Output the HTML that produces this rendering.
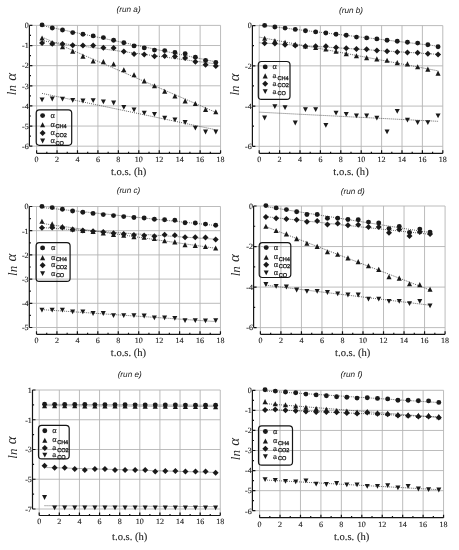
<!DOCTYPE html><html><head><meta charset="utf-8"><style>html,body{margin:0;padding:0;background:#fff;width:459px;height:550px;overflow:hidden}svg{display:block;filter:grayscale(1) blur(0.3px)}text{text-rendering:geometricPrecision}.tk{font-family:"Liberation Serif",serif;font-size:8px;fill:#1a1a1a;stroke:#1a1a1a;stroke-width:0.12px}.ti{font-family:"Liberation Sans",sans-serif;font-style:italic;font-size:8.2px;fill:#222}.xl{font-family:"Liberation Serif",serif;font-size:10.6px;fill:#1a1a1a;stroke:#1a1a1a;stroke-width:0.1px}.yl{font-family:"Liberation Serif",serif;font-style:italic;font-size:13px;fill:#222;word-spacing:1px}.lg{font-family:"Liberation Serif",serif;font-size:8.3px;fill:#1a1a1a;stroke:#1a1a1a;stroke-width:0.15px}.ls{font-family:"Liberation Sans",sans-serif;font-size:5.6px;fill:#1a1a1a;stroke:#1a1a1a;stroke-width:0.3px;letter-spacing:-0.1px}.la{font-family:"Liberation Sans",sans-serif;font-size:7px;fill:#1a1a1a;stroke:#1a1a1a;stroke-width:0.15px}</style></head><body>
<svg width="459" height="550" viewBox="0 0 459 550">
<rect width="459" height="550" fill="#fff"/>
<path d="M29.4 25.4H220.56M29.4 45.53H220.56M29.4 65.66H220.56M29.4 85.79H220.56M29.4 105.92H220.56M29.4 126.05H220.56M29.4 146.18H220.56M36.6 25.4V153.3M57.04 25.4V153.3M77.48 25.4V153.3M97.92 25.4V153.3M118.36 25.4V153.3M138.8 25.4V153.3M159.24 25.4V153.3M179.68 25.4V153.3M200.12 25.4V153.3M220.56 25.4V153.3" stroke="#b4b4b4" stroke-width="0.9" fill="none"/>
<path d="M29.4 25.4V146.18M36.6 153.3H220.56M29.4 25.4h3M29.4 45.53h3M29.4 65.66h3M29.4 85.79h3M29.4 105.92h3M29.4 126.05h3M29.4 146.18h3M29.4 35.46h1.6M29.4 55.59h1.6M29.4 75.72h1.6M29.4 95.85h1.6M29.4 115.98h1.6M29.4 136.11h1.6M36.6 153.3v-3M46.82 153.3v-1.6M57.04 153.3v-3M67.26 153.3v-1.6M77.48 153.3v-3M87.7 153.3v-1.6M97.92 153.3v-3M108.14 153.3v-1.6M118.36 153.3v-3M128.58 153.3v-1.6M138.8 153.3v-3M149.02 153.3v-1.6M159.24 153.3v-3M169.46 153.3v-1.6M179.68 153.3v-3M189.9 153.3v-1.6M200.12 153.3v-3M210.34 153.3v-1.6M220.56 153.3v-3" stroke="#151515" stroke-width="1.2" fill="none"/>
<g class="tk"><text x="28.7" y="28.2" text-anchor="end">0</text><text x="28.7" y="48.33" text-anchor="end">-1</text><text x="28.7" y="68.46" text-anchor="end">-2</text><text x="28.7" y="88.59" text-anchor="end">-3</text><text x="28.7" y="108.72" text-anchor="end">-4</text><text x="28.7" y="128.85" text-anchor="end">-5</text><text x="28.7" y="148.98" text-anchor="end">-6</text><text x="36.6" y="161.5" text-anchor="middle">0</text><text x="57.04" y="161.5" text-anchor="middle">2</text><text x="77.48" y="161.5" text-anchor="middle">4</text><text x="97.92" y="161.5" text-anchor="middle">6</text><text x="118.36" y="161.5" text-anchor="middle">8</text><text x="138.8" y="161.5" text-anchor="middle">10</text><text x="159.24" y="161.5" text-anchor="middle">12</text><text x="179.68" y="161.5" text-anchor="middle">14</text><text x="200.12" y="161.5" text-anchor="middle">16</text><text x="220.56" y="161.5" text-anchor="middle">18</text></g>
<text class="ti" x="128.6" y="11.8" text-anchor="middle">(run a)</text>
<text class="xl" x="128.58" y="174.6" text-anchor="middle">t.o.s. (h)</text>
<text class="yl" transform="translate(11.9 84.1) rotate(-90)" x="0" y="0" text-anchor="middle" dominant-baseline="central">ln <tspan style="font-size:15px">α</tspan></text>
<path d="M42.06 25.59L215.8 61.86M42.06 37.14L215.8 112.35M42.06 40.81L215.8 63.88M42.06 93.4L215.8 129.8" stroke="#3a3a3a" stroke-width="0.85" stroke-dasharray="0.9 1.1" fill="none"/>
<g fill="#1a1a1a"><path d="M39.56 97.4L44.56 97.4L42.06 102.2Z"/><path d="M49.78 96.6L54.78 96.6L52.28 101.4Z"/><path d="M60 96.8L65 96.8L62.5 101.6Z"/><path d="M70.22 97.9L75.22 97.9L72.72 102.7Z"/><path d="M80.44 98.6L85.44 98.6L82.94 103.4Z"/><path d="M90.66 98.2L95.66 98.2L93.16 103Z"/><path d="M100.88 99.4L105.88 99.4L103.38 104.2Z"/><path d="M111.1 100.6L116.1 100.6L113.6 105.4Z"/><path d="M121.32 105L126.32 105L123.82 109.8Z"/><path d="M131.54 107.4L136.54 107.4L134.04 112.2Z"/><path d="M141.76 110.7L146.76 110.7L144.26 115.5Z"/><path d="M151.98 112L156.98 112L154.48 116.8Z"/><path d="M162.2 115.8L167.2 115.8L164.7 120.6Z"/><path d="M172.42 117.5L177.42 117.5L174.92 122.3Z"/><path d="M182.64 120.1L187.64 120.1L185.14 124.9Z"/><path d="M192.86 125.7L197.86 125.7L195.36 130.5Z"/><path d="M203.08 129.6L208.08 129.6L205.58 134.4Z"/><path d="M213.3 129.6L218.3 129.6L215.8 134.4Z"/><path d="M42.06 40.1L45.06 43.1L42.06 46.1L39.06 43.1Z"/><path d="M52.28 40.8L55.28 43.8L52.28 46.8L49.28 43.8Z"/><path d="M62.5 41L65.5 44L62.5 47L59.5 44Z"/><path d="M72.72 42.3L75.72 45.3L72.72 48.3L69.72 45.3Z"/><path d="M82.94 42.5L85.94 45.5L82.94 48.5L79.94 45.5Z"/><path d="M93.16 42.5L96.16 45.5L93.16 48.5L90.16 45.5Z"/><path d="M103.38 44.7L106.38 47.7L103.38 50.7L100.38 47.7Z"/><path d="M113.6 44.9L116.6 47.9L113.6 50.9L110.6 47.9Z"/><path d="M123.82 48.4L126.82 51.4L123.82 54.4L120.82 51.4Z"/><path d="M134.04 51.1L137.04 54.1L134.04 57.1L131.04 54.1Z"/><path d="M144.26 51.4L147.26 54.4L144.26 57.4L141.26 54.4Z"/><path d="M154.48 53.3L157.48 56.3L154.48 59.3L151.48 56.3Z"/><path d="M164.7 53L167.7 56L164.7 59L161.7 56Z"/><path d="M174.92 53.6L177.92 56.6L174.92 59.6L171.92 56.6Z"/><path d="M185.14 54.9L188.14 57.9L185.14 60.9L182.14 57.9Z"/><path d="M195.36 58.8L198.36 61.8L195.36 64.8L192.36 61.8Z"/><path d="M205.58 61.8L208.58 64.8L205.58 67.8L202.58 64.8Z"/><path d="M215.8 63.1L218.8 66.1L215.8 69.1L212.8 66.1Z"/><path d="M42.06 35.45L44.61 40.55L39.51 40.55Z"/><path d="M52.28 40.25L54.83 45.35L49.73 45.35Z"/><path d="M62.5 44.15L65.05 49.25L59.95 49.25Z"/><path d="M72.72 48.55L75.27 53.65L70.17 53.65Z"/><path d="M82.94 53.55L85.49 58.65L80.39 58.65Z"/><path d="M93.16 58.45L95.71 63.55L90.61 63.55Z"/><path d="M103.38 59.05L105.93 64.15L100.83 64.15Z"/><path d="M113.6 61.45L116.15 66.55L111.05 66.55Z"/><path d="M123.82 67.25L126.37 72.35L121.27 72.35Z"/><path d="M134.04 72.25L136.59 77.35L131.49 77.35Z"/><path d="M144.26 78.35L146.81 83.45L141.71 83.45Z"/><path d="M154.48 83.25L157.03 88.35L151.93 88.35Z"/><path d="M164.7 88.65L167.25 93.75L162.15 93.75Z"/><path d="M174.92 93.45L177.47 98.55L172.37 98.55Z"/><path d="M185.14 98.35L187.69 103.45L182.59 103.45Z"/><path d="M195.36 100.95L197.91 106.05L192.81 106.05Z"/><path d="M205.58 106.85L208.13 111.95L203.03 111.95Z"/><path d="M215.8 109.25L218.35 114.35L213.25 114.35Z"/><circle cx="42.06" cy="24.9" r="2.45"/><circle cx="52.28" cy="28" r="2.45"/><circle cx="62.5" cy="30" r="2.45"/><circle cx="72.72" cy="32.6" r="2.45"/><circle cx="82.94" cy="34.2" r="2.45"/><circle cx="93.16" cy="35.9" r="2.45"/><circle cx="103.38" cy="37.6" r="2.45"/><circle cx="113.6" cy="40.3" r="2.45"/><circle cx="123.82" cy="42.7" r="2.45"/><circle cx="134.04" cy="45.9" r="2.45"/><circle cx="144.26" cy="47.9" r="2.45"/><circle cx="154.48" cy="50.1" r="2.45"/><circle cx="164.7" cy="50.6" r="2.45"/><circle cx="174.92" cy="52.4" r="2.45"/><circle cx="185.14" cy="53.7" r="2.45"/><circle cx="195.36" cy="57.2" r="2.45"/><circle cx="205.58" cy="60.5" r="2.45"/><circle cx="215.8" cy="62.5" r="2.45"/></g>
<rect x="36.2" y="109.8" width="35.5" height="35.5" rx="3.2" ry="3.2" fill="none" stroke="#151515" stroke-width="1.2"/>
<g fill="#1a1a1a"><circle cx="42.6" cy="115.6" r="2.45"/><path d="M42.6 122.25L45.15 127.35L40.05 127.35Z"/><path d="M42.6 129.9L45.6 132.9L42.6 135.9L39.6 132.9Z"/><path d="M40.1 138.6L45.1 138.6L42.6 143.4Z"/></g>
<text class="lg" x="50.5" y="117.6">α</text><text class="lg" x="50.5" y="126.8">α</text><text class="ls" x="55.5" y="128.4">CH4</text><text class="lg" x="50.5" y="134.9">α</text><text class="ls" x="55.5" y="136.5">CO2</text><text class="lg" x="50.5" y="143">α</text><text class="ls" x="55.5" y="144.6">CO</text>
<path d="M252.4 25.6H442.8M252.4 65.84H442.8M252.4 106.08H442.8M252.4 146.32H442.8M259.2 25.6V153.3M279.6 25.6V153.3M300 25.6V153.3M320.4 25.6V153.3M340.8 25.6V153.3M361.2 25.6V153.3M381.6 25.6V153.3M402 25.6V153.3M422.4 25.6V153.3M442.8 25.6V153.3" stroke="#b4b4b4" stroke-width="0.9" fill="none"/>
<path d="M252.4 25.6V146.32M259.2 153.3H442.8M252.4 25.6h3M252.4 65.84h3M252.4 106.08h3M252.4 146.32h3M252.4 45.72h1.6M252.4 85.96h1.6M252.4 126.2h1.6M259.2 153.3v-3M269.4 153.3v-1.6M279.6 153.3v-3M289.8 153.3v-1.6M300 153.3v-3M310.2 153.3v-1.6M320.4 153.3v-3M330.6 153.3v-1.6M340.8 153.3v-3M351 153.3v-1.6M361.2 153.3v-3M371.4 153.3v-1.6M381.6 153.3v-3M391.8 153.3v-1.6M402 153.3v-3M412.2 153.3v-1.6M422.4 153.3v-3M432.6 153.3v-1.6M442.8 153.3v-3" stroke="#151515" stroke-width="1.2" fill="none"/>
<g class="tk"><text x="251.7" y="28.4" text-anchor="end">0</text><text x="251.7" y="68.64" text-anchor="end">-2</text><text x="251.7" y="108.88" text-anchor="end">-4</text><text x="251.7" y="149.12" text-anchor="end">-6</text><text x="259.2" y="161.5" text-anchor="middle">0</text><text x="279.6" y="161.5" text-anchor="middle">2</text><text x="300" y="161.5" text-anchor="middle">4</text><text x="320.4" y="161.5" text-anchor="middle">6</text><text x="340.8" y="161.5" text-anchor="middle">8</text><text x="361.2" y="161.5" text-anchor="middle">10</text><text x="381.6" y="161.5" text-anchor="middle">12</text><text x="402" y="161.5" text-anchor="middle">14</text><text x="422.4" y="161.5" text-anchor="middle">16</text><text x="442.8" y="161.5" text-anchor="middle">18</text></g>
<text class="ti" x="351" y="12.7" text-anchor="middle">(run b)</text>
<text class="xl" x="351" y="174.8" text-anchor="middle">t.o.s. (h)</text>
<text class="yl" transform="translate(234.9 84.4) rotate(-90)" x="0" y="0" text-anchor="middle" dominant-baseline="central">ln <tspan style="font-size:15px">α</tspan></text>
<path d="M259.55 25.17L438.05 46.14M259.55 37.19L438.05 70.82M259.55 42.79L438.05 54.33M259.55 112.2L438.05 121.3" stroke="#3a3a3a" stroke-width="0.85" stroke-dasharray="0.9 1.1" fill="none"/>
<g fill="#1a1a1a"><path d="M262.15 115.6L267.15 115.6L264.65 120.4Z"/><path d="M272.35 104.3L277.35 104.3L274.85 109.1Z"/><path d="M282.55 105.2L287.55 105.2L285.05 110Z"/><path d="M292.75 120.6L297.75 120.6L295.25 125.4Z"/><path d="M302.95 107.2L307.95 107.2L305.45 112Z"/><path d="M313.15 107.2L318.15 107.2L315.65 112Z"/><path d="M323.35 122.9L328.35 122.9L325.85 127.7Z"/><path d="M333.55 110.7L338.55 110.7L336.05 115.5Z"/><path d="M343.75 111.9L348.75 111.9L346.25 116.7Z"/><path d="M353.95 113.4L358.95 113.4L356.45 118.2Z"/><path d="M364.15 113.4L369.15 113.4L366.65 118.2Z"/><path d="M374.35 115.7L379.35 115.7L376.85 120.5Z"/><path d="M384.55 129.5L389.55 129.5L387.05 134.3Z"/><path d="M394.75 108.9L399.75 108.9L397.25 113.7Z"/><path d="M404.95 117.7L409.95 117.7L407.45 122.5Z"/><path d="M415.15 120.2L420.15 120.2L417.65 125Z"/><path d="M425.35 120.2L430.35 120.2L427.85 125Z"/><path d="M435.55 113.4L440.55 113.4L438.05 118.2Z"/><path d="M264.65 40.3L267.65 43.3L264.65 46.3L261.65 43.3Z"/><path d="M274.85 40.6L277.85 43.6L274.85 46.6L271.85 43.6Z"/><path d="M285.05 41.7L288.05 44.7L285.05 47.7L282.05 44.7Z"/><path d="M295.25 42.5L298.25 45.5L295.25 48.5L292.25 45.5Z"/><path d="M305.45 43.3L308.45 46.3L305.45 49.3L302.45 46.3Z"/><path d="M315.65 43.2L318.65 46.2L315.65 49.2L312.65 46.2Z"/><path d="M325.85 43.2L328.85 46.2L325.85 49.2L322.85 46.2Z"/><path d="M336.05 44.5L339.05 47.5L336.05 50.5L333.05 47.5Z"/><path d="M346.25 45.2L349.25 48.2L346.25 51.2L343.25 48.2Z"/><path d="M356.45 46L359.45 49L356.45 52L353.45 49Z"/><path d="M366.65 46.2L369.65 49.2L366.65 52.2L363.65 49.2Z"/><path d="M376.85 47.6L379.85 50.6L376.85 53.6L373.85 50.6Z"/><path d="M387.05 48.3L390.05 51.3L387.05 54.3L384.05 51.3Z"/><path d="M397.25 48.9L400.25 51.9L397.25 54.9L394.25 51.9Z"/><path d="M407.45 49.4L410.45 52.4L407.45 55.4L404.45 52.4Z"/><path d="M417.65 49.8L420.65 52.8L417.65 55.8L414.65 52.8Z"/><path d="M427.85 50.7L430.85 53.7L427.85 56.7L424.85 53.7Z"/><path d="M438.05 51.6L441.05 54.6L438.05 57.6L435.05 54.6Z"/><path d="M264.65 35.65L267.2 40.75L262.1 40.75Z"/><path d="M274.85 38.15L277.4 43.25L272.3 43.25Z"/><path d="M285.05 39.65L287.6 44.75L282.5 44.75Z"/><path d="M295.25 41.75L297.8 46.85L292.7 46.85Z"/><path d="M305.45 43.45L308 48.55L302.9 48.55Z"/><path d="M315.65 44.95L318.2 50.05L313.1 50.05Z"/><path d="M325.85 46.45L328.4 51.55L323.3 51.55Z"/><path d="M336.05 48.75L338.6 53.85L333.5 53.85Z"/><path d="M346.25 51.05L348.8 56.15L343.7 56.15Z"/><path d="M356.45 53.25L359 58.35L353.9 58.35Z"/><path d="M366.65 55.05L369.2 60.15L364.1 60.15Z"/><path d="M376.85 56.35L379.4 61.45L374.3 61.45Z"/><path d="M387.05 57.65L389.6 62.75L384.5 62.75Z"/><path d="M397.25 60.05L399.8 65.15L394.7 65.15Z"/><path d="M407.45 61.35L410 66.45L404.9 66.45Z"/><path d="M417.65 64.15L420.2 69.25L415.1 69.25Z"/><path d="M427.85 66.55L430.4 71.65L425.3 71.65Z"/><path d="M438.05 70.55L440.6 75.65L435.5 75.65Z"/><circle cx="264.65" cy="25.4" r="2.45"/><circle cx="274.85" cy="27" r="2.45"/><circle cx="285.05" cy="28.1" r="2.45"/><circle cx="295.25" cy="29.4" r="2.45"/><circle cx="305.45" cy="30.7" r="2.45"/><circle cx="315.65" cy="31.9" r="2.45"/><circle cx="325.85" cy="33" r="2.45"/><circle cx="336.05" cy="34.2" r="2.45"/><circle cx="346.25" cy="35.3" r="2.45"/><circle cx="356.45" cy="37.1" r="2.45"/><circle cx="366.65" cy="37.9" r="2.45"/><circle cx="376.85" cy="38.9" r="2.45"/><circle cx="387.05" cy="40.2" r="2.45"/><circle cx="397.25" cy="41.3" r="2.45"/><circle cx="407.45" cy="42.2" r="2.45"/><circle cx="417.65" cy="43.1" r="2.45"/><circle cx="427.85" cy="44.8" r="2.45"/><circle cx="438.05" cy="46.7" r="2.45"/></g>
<rect x="258.3" y="61.5" width="31.7" height="37.9" rx="3.2" ry="3.2" fill="none" stroke="#151515" stroke-width="1.2"/>
<g fill="#1a1a1a"><circle cx="265.2" cy="66.9" r="2.45"/><path d="M265.2 73.35L267.75 78.45L262.65 78.45Z"/><path d="M265.2 80.7L268.2 83.7L265.2 86.7L262.2 83.7Z"/><path d="M262.7 89.2L267.7 89.2L265.2 94Z"/></g>
<text class="lg" x="272.5" y="68.9">α</text><text class="la" x="272.5" y="77.9">a</text><text class="ls" x="277.5" y="79.5">CH4</text><text class="la" x="272.5" y="85.7">a</text><text class="ls" x="277.5" y="87.3">CO2</text><text class="la" x="272.5" y="93.6">a</text><text class="ls" x="277.5" y="95.2">CO</text>
<path d="M29.3 206.5H220.46M29.3 230.7H220.46M29.3 254.9H220.46M29.3 279.1H220.46M29.3 303.3H220.46M29.3 327.5H220.46M36.5 206.5V334.3M56.94 206.5V334.3M77.38 206.5V334.3M97.82 206.5V334.3M118.26 206.5V334.3M138.7 206.5V334.3M159.14 206.5V334.3M179.58 206.5V334.3M200.02 206.5V334.3M220.46 206.5V334.3" stroke="#b4b4b4" stroke-width="0.9" fill="none"/>
<path d="M29.3 206.5V327.5M36.5 334.3H220.46M29.3 206.5h3M29.3 230.7h3M29.3 254.9h3M29.3 279.1h3M29.3 303.3h3M29.3 327.5h3M29.3 218.6h1.6M29.3 242.8h1.6M29.3 267h1.6M29.3 291.2h1.6M29.3 315.4h1.6M36.5 334.3v-3M46.72 334.3v-1.6M56.94 334.3v-3M67.16 334.3v-1.6M77.38 334.3v-3M87.6 334.3v-1.6M97.82 334.3v-3M108.04 334.3v-1.6M118.26 334.3v-3M128.48 334.3v-1.6M138.7 334.3v-3M148.92 334.3v-1.6M159.14 334.3v-3M169.36 334.3v-1.6M179.58 334.3v-3M189.8 334.3v-1.6M200.02 334.3v-3M210.24 334.3v-1.6M220.46 334.3v-3" stroke="#151515" stroke-width="1.2" fill="none"/>
<g class="tk"><text x="28.6" y="209.3" text-anchor="end">0</text><text x="28.6" y="233.5" text-anchor="end">-1</text><text x="28.6" y="257.7" text-anchor="end">-2</text><text x="28.6" y="281.9" text-anchor="end">-3</text><text x="28.6" y="306.1" text-anchor="end">-4</text><text x="28.6" y="330.3" text-anchor="end">-5</text><text x="36.5" y="342.5" text-anchor="middle">0</text><text x="56.94" y="342.5" text-anchor="middle">2</text><text x="77.38" y="342.5" text-anchor="middle">4</text><text x="97.82" y="342.5" text-anchor="middle">6</text><text x="118.26" y="342.5" text-anchor="middle">8</text><text x="138.7" y="342.5" text-anchor="middle">10</text><text x="159.14" y="342.5" text-anchor="middle">12</text><text x="179.58" y="342.5" text-anchor="middle">14</text><text x="200.02" y="342.5" text-anchor="middle">16</text><text x="220.46" y="342.5" text-anchor="middle">18</text></g>
<text class="ti" x="128.5" y="193.4" text-anchor="middle">(run c)</text>
<text class="xl" x="128.48" y="356.3" text-anchor="middle">t.o.s. (h)</text>
<text class="yl" transform="translate(12.1 264.8) rotate(-90)" x="0" y="0" text-anchor="middle" dominant-baseline="central">ln <tspan style="font-size:15px">α</tspan></text>
<path d="M41.96 207.47L215.7 225.48M41.96 223.43L215.7 248.27M41.96 227.59L215.7 239.21M41.96 309.63L215.7 321.58" stroke="#3a3a3a" stroke-width="0.85" stroke-dasharray="0.9 1.1" fill="none"/>
<g fill="#1a1a1a"><path d="M39.46 307.8L44.46 307.8L41.96 312.6Z"/><path d="M49.68 307.8L54.68 307.8L52.18 312.6Z"/><path d="M59.9 307.8L64.9 307.8L62.4 312.6Z"/><path d="M70.12 309.4L75.12 309.4L72.62 314.2Z"/><path d="M80.34 309.4L85.34 309.4L82.84 314.2Z"/><path d="M90.56 311.1L95.56 311.1L93.06 315.9Z"/><path d="M100.78 311.1L105.78 311.1L103.28 315.9Z"/><path d="M111 313.3L116 313.3L113.5 318.1Z"/><path d="M121.22 313.2L126.22 313.2L123.72 318Z"/><path d="M131.44 313.2L136.44 313.2L133.94 318Z"/><path d="M141.66 313.6L146.66 313.6L144.16 318.4Z"/><path d="M151.88 315.5L156.88 315.5L154.38 320.3Z"/><path d="M162.1 315.5L167.1 315.5L164.6 320.3Z"/><path d="M172.32 316L177.32 316L174.82 320.8Z"/><path d="M182.54 318.2L187.54 318.2L185.04 323Z"/><path d="M192.76 318.2L197.76 318.2L195.26 323Z"/><path d="M202.98 318.4L207.98 318.4L205.48 323.2Z"/><path d="M213.2 318.2L218.2 318.2L215.7 323Z"/><path d="M41.96 224.8L44.96 227.8L41.96 230.8L38.96 227.8Z"/><path d="M52.18 224.4L55.18 227.4L52.18 230.4L49.18 227.4Z"/><path d="M62.4 224.4L65.4 227.4L62.4 230.4L59.4 227.4Z"/><path d="M72.62 226.4L75.62 229.4L72.62 232.4L69.62 229.4Z"/><path d="M82.84 227.4L85.84 230.4L82.84 233.4L79.84 230.4Z"/><path d="M93.06 228.3L96.06 231.3L93.06 234.3L90.06 231.3Z"/><path d="M103.28 229L106.28 232L103.28 235L100.28 232Z"/><path d="M113.5 230.2L116.5 233.2L113.5 236.2L110.5 233.2Z"/><path d="M123.72 231L126.72 234L123.72 237L120.72 234Z"/><path d="M133.94 232L136.94 235L133.94 238L130.94 235Z"/><path d="M144.16 232.5L147.16 235.5L144.16 238.5L141.16 235.5Z"/><path d="M154.38 233.3L157.38 236.3L154.38 239.3L151.38 236.3Z"/><path d="M164.6 231.7L167.6 234.7L164.6 237.7L161.6 234.7Z"/><path d="M174.82 232.2L177.82 235.2L174.82 238.2L171.82 235.2Z"/><path d="M185.04 234.3L188.04 237.3L185.04 240.3L182.04 237.3Z"/><path d="M195.26 234.3L198.26 237.3L195.26 240.3L192.26 237.3Z"/><path d="M205.48 234.5L208.48 237.5L205.48 240.5L202.48 237.5Z"/><path d="M215.7 236.5L218.7 239.5L215.7 242.5L212.7 239.5Z"/><path d="M41.96 218.75L44.51 223.85L39.41 223.85Z"/><path d="M52.18 221.35L54.73 226.45L49.63 226.45Z"/><path d="M62.4 223.95L64.95 229.05L59.85 229.05Z"/><path d="M72.62 226.45L75.17 231.55L70.07 231.55Z"/><path d="M82.84 227.95L85.39 233.05L80.29 233.05Z"/><path d="M93.06 228.95L95.61 234.05L90.51 234.05Z"/><path d="M103.28 230.45L105.83 235.55L100.73 235.55Z"/><path d="M113.5 231.95L116.05 237.05L110.95 237.05Z"/><path d="M123.72 232.75L126.27 237.85L121.17 237.85Z"/><path d="M133.94 234.15L136.49 239.25L131.39 239.25Z"/><path d="M144.16 234.75L146.71 239.85L141.61 239.85Z"/><path d="M154.38 235.95L156.93 241.05L151.83 241.05Z"/><path d="M164.6 238.25L167.15 243.35L162.05 243.35Z"/><path d="M174.82 239.35L177.37 244.45L172.27 244.45Z"/><path d="M185.04 242.15L187.59 247.25L182.49 247.25Z"/><path d="M195.26 242.85L197.81 247.95L192.71 247.95Z"/><path d="M205.48 243.95L208.03 249.05L202.93 249.05Z"/><path d="M215.7 245.45L218.25 250.55L213.15 250.55Z"/><circle cx="41.96" cy="206.4" r="2.45"/><circle cx="52.18" cy="207.6" r="2.45"/><circle cx="62.4" cy="209.2" r="2.45"/><circle cx="72.62" cy="211" r="2.45"/><circle cx="82.84" cy="212.2" r="2.45"/><circle cx="93.06" cy="213.4" r="2.45"/><circle cx="103.28" cy="214.6" r="2.45"/><circle cx="113.5" cy="215.6" r="2.45"/><circle cx="123.72" cy="216.6" r="2.45"/><circle cx="133.94" cy="217.5" r="2.45"/><circle cx="144.16" cy="218" r="2.45"/><circle cx="154.38" cy="219.2" r="2.45"/><circle cx="164.6" cy="219.8" r="2.45"/><circle cx="174.82" cy="220.3" r="2.45"/><circle cx="185.04" cy="222.8" r="2.45"/><circle cx="195.26" cy="223" r="2.45"/><circle cx="205.48" cy="224.1" r="2.45"/><circle cx="215.7" cy="225.3" r="2.45"/></g>
<rect x="36.1" y="242.6" width="34" height="38.8" rx="3.2" ry="3.2" fill="none" stroke="#151515" stroke-width="1.2"/>
<g fill="#1a1a1a"><circle cx="42.6" cy="247.9" r="2.45"/><path d="M42.6 255.05L45.15 260.15L40.05 260.15Z"/><path d="M42.6 262.3L45.6 265.3L42.6 268.3L39.6 265.3Z"/><path d="M40.1 271.2L45.1 271.2L42.6 276Z"/></g>
<text class="lg" x="50.9" y="249.9">α</text><text class="lg" x="50.9" y="259.6">α</text><text class="ls" x="55.9" y="261.2">CH4</text><text class="lg" x="50.9" y="267.3">α</text><text class="ls" x="55.9" y="268.9">CO2</text><text class="lg" x="50.9" y="275.6">α</text><text class="ls" x="55.9" y="277.2">CO</text>
<path d="M253.6 206H445.08M253.6 246.54H445.08M253.6 287.08H445.08M253.6 327.62H445.08M260.4 206V334.3M280.92 206V334.3M301.44 206V334.3M321.96 206V334.3M342.48 206V334.3M363 206V334.3M383.52 206V334.3M404.04 206V334.3M424.56 206V334.3M445.08 206V334.3" stroke="#b4b4b4" stroke-width="0.9" fill="none"/>
<path d="M253.6 206V327.62M260.4 334.3H445.08M253.6 206h3M253.6 246.54h3M253.6 287.08h3M253.6 327.62h3M253.6 226.27h1.6M253.6 266.81h1.6M253.6 307.35h1.6M260.4 334.3v-3M270.66 334.3v-1.6M280.92 334.3v-3M291.18 334.3v-1.6M301.44 334.3v-3M311.7 334.3v-1.6M321.96 334.3v-3M332.22 334.3v-1.6M342.48 334.3v-3M352.74 334.3v-1.6M363 334.3v-3M373.26 334.3v-1.6M383.52 334.3v-3M393.78 334.3v-1.6M404.04 334.3v-3M414.3 334.3v-1.6M424.56 334.3v-3M434.82 334.3v-1.6M445.08 334.3v-3" stroke="#151515" stroke-width="1.2" fill="none"/>
<g class="tk"><text x="252.9" y="208.8" text-anchor="end">0</text><text x="252.9" y="249.34" text-anchor="end">-2</text><text x="252.9" y="289.88" text-anchor="end">-4</text><text x="252.9" y="330.42" text-anchor="end">-6</text><text x="260.4" y="342.5" text-anchor="middle">0</text><text x="280.92" y="342.5" text-anchor="middle">2</text><text x="301.44" y="342.5" text-anchor="middle">4</text><text x="321.96" y="342.5" text-anchor="middle">6</text><text x="342.48" y="342.5" text-anchor="middle">8</text><text x="363" y="342.5" text-anchor="middle">10</text><text x="383.52" y="342.5" text-anchor="middle">12</text><text x="404.04" y="342.5" text-anchor="middle">14</text><text x="424.56" y="342.5" text-anchor="middle">16</text><text x="445.08" y="342.5" text-anchor="middle">18</text></g>
<text class="ti" x="352.8" y="193.6" text-anchor="middle">(run d)</text>
<text class="xl" x="352.74" y="356.3" text-anchor="middle">t.o.s. (h)</text>
<text class="yl" transform="translate(235 265.2) rotate(-90)" x="0" y="0" text-anchor="middle" dominant-baseline="central">ln <tspan style="font-size:15px">α</tspan></text>
<path d="M265.88 206.62L430.04 232.59M265.88 226.61L430.04 290.07M265.88 216.67L430.04 234.33M265.88 285.19L430.04 305.22" stroke="#3a3a3a" stroke-width="0.85" stroke-dasharray="0.9 1.1" fill="none"/>
<g fill="#1a1a1a"><path d="M263.38 282.1L268.38 282.1L265.88 286.9Z"/><path d="M273.64 283.9L278.64 283.9L276.14 288.7Z"/><path d="M283.9 284.6L288.9 284.6L286.4 289.4Z"/><path d="M294.16 287.6L299.16 287.6L296.66 292.4Z"/><path d="M304.42 288.9L309.42 288.9L306.92 293.7Z"/><path d="M314.68 288.9L319.68 288.9L317.18 293.7Z"/><path d="M324.94 290.1L329.94 290.1L327.44 294.9Z"/><path d="M335.2 291.4L340.2 291.4L337.7 296.2Z"/><path d="M345.46 292.6L350.46 292.6L347.96 297.4Z"/><path d="M355.72 292.6L360.72 292.6L358.22 297.4Z"/><path d="M365.98 296.8L370.98 296.8L368.48 301.6Z"/><path d="M376.24 296.7L381.24 296.7L378.74 301.5Z"/><path d="M386.5 298.9L391.5 298.9L389 303.7Z"/><path d="M396.76 298.9L401.76 298.9L399.26 303.7Z"/><path d="M407.02 301.3L412.02 301.3L409.52 306.1Z"/><path d="M417.28 298.9L422.28 298.9L419.78 303.7Z"/><path d="M427.54 303.5L432.54 303.5L430.04 308.3Z"/><path d="M265.88 214.1L268.88 217.1L265.88 220.1L262.88 217.1Z"/><path d="M276.14 215.3L279.14 218.3L276.14 221.3L273.14 218.3Z"/><path d="M286.4 216.1L289.4 219.1L286.4 222.1L283.4 219.1Z"/><path d="M296.66 216.8L299.66 219.8L296.66 222.8L293.66 219.8Z"/><path d="M306.92 218.8L309.92 221.8L306.92 224.8L303.92 221.8Z"/><path d="M317.18 217.9L320.18 220.9L317.18 223.9L314.18 220.9Z"/><path d="M327.44 221.5L330.44 224.5L327.44 227.5L324.44 224.5Z"/><path d="M337.7 220.6L340.7 223.6L337.7 226.6L334.7 223.6Z"/><path d="M347.96 222.2L350.96 225.2L347.96 228.2L344.96 225.2Z"/><path d="M358.22 221.7L361.22 224.7L358.22 227.7L355.22 224.7Z"/><path d="M368.48 224.1L371.48 227.1L368.48 230.1L365.48 227.1Z"/><path d="M378.74 224.1L381.74 227.1L378.74 230.1L375.74 227.1Z"/><path d="M389 229.8L392 232.8L389 235.8L386 232.8Z"/><path d="M399.26 226.4L402.26 229.4L399.26 232.4L396.26 229.4Z"/><path d="M409.52 233L412.52 236L409.52 239L406.52 236Z"/><path d="M419.78 229.1L422.78 232.1L419.78 235.1L416.78 232.1Z"/><path d="M430.04 231L433.04 234L430.04 237L427.04 234Z"/><path d="M265.88 223.65L268.43 228.75L263.33 228.75Z"/><path d="M276.14 227.95L278.69 233.05L273.59 233.05Z"/><path d="M286.4 231.35L288.95 236.45L283.85 236.45Z"/><path d="M296.66 236.05L299.21 241.15L294.11 241.15Z"/><path d="M306.92 240.65L309.47 245.75L304.37 245.75Z"/><path d="M317.18 243.85L319.73 248.95L314.63 248.95Z"/><path d="M327.44 249.15L329.99 254.25L324.89 254.25Z"/><path d="M337.7 251.75L340.25 256.85L335.15 256.85Z"/><path d="M347.96 255.35L350.51 260.45L345.41 260.45Z"/><path d="M358.22 259.05L360.77 264.15L355.67 264.15Z"/><path d="M368.48 263.15L371.03 268.25L365.93 268.25Z"/><path d="M378.74 266.85L381.29 271.95L376.19 271.95Z"/><path d="M389 274.15L391.55 279.25L386.45 279.25Z"/><path d="M399.26 275.55L401.81 280.65L396.71 280.65Z"/><path d="M409.52 281.15L412.07 286.25L406.97 286.25Z"/><path d="M419.78 282.05L422.33 287.15L417.23 287.15Z"/><path d="M430.04 286.75L432.59 291.85L427.49 291.85Z"/><circle cx="265.88" cy="205.6" r="2.45"/><circle cx="276.14" cy="207.9" r="2.45"/><circle cx="286.4" cy="209.6" r="2.45"/><circle cx="296.66" cy="211.7" r="2.45"/><circle cx="306.92" cy="214.5" r="2.45"/><circle cx="317.18" cy="214.5" r="2.45"/><circle cx="327.44" cy="218.2" r="2.45"/><circle cx="337.7" cy="218.3" r="2.45"/><circle cx="347.96" cy="219.5" r="2.45"/><circle cx="358.22" cy="219.8" r="2.45"/><circle cx="368.48" cy="222.1" r="2.45"/><circle cx="378.74" cy="222.9" r="2.45"/><circle cx="389" cy="228.6" r="2.45"/><circle cx="399.26" cy="226.4" r="2.45"/><circle cx="409.52" cy="232.5" r="2.45"/><circle cx="419.78" cy="229.1" r="2.45"/><circle cx="430.04" cy="232.1" r="2.45"/></g>
<rect x="259.2" y="242.6" width="31.6" height="34.9" rx="3.2" ry="3.2" fill="none" stroke="#151515" stroke-width="1.2"/>
<g fill="#1a1a1a"><circle cx="266.2" cy="247.6" r="2.45"/><path d="M266.2 254.75L268.75 259.85L263.65 259.85Z"/><path d="M266.2 261.8L269.2 264.8L266.2 267.8L263.2 264.8Z"/><path d="M263.7 270.5L268.7 270.5L266.2 275.3Z"/></g>
<text class="lg" x="273.8" y="249.6">α</text><text class="lg" x="273.8" y="259.3">α</text><text class="ls" x="278.8" y="260.9">CH4</text><text class="lg" x="273.8" y="266.8">α</text><text class="ls" x="278.8" y="268.4">CO2</text><text class="lg" x="273.8" y="274.9">α</text><text class="ls" x="278.8" y="276.5">CO</text>
<path d="M32.5 390H220.28M32.5 419.75H220.28M32.5 449.5H220.28M32.5 479.25H220.28M32.5 509H220.28M39.2 390V515.5M59.32 390V515.5M79.44 390V515.5M99.56 390V515.5M119.68 390V515.5M139.8 390V515.5M159.92 390V515.5M180.04 390V515.5M200.16 390V515.5M220.28 390V515.5" stroke="#b4b4b4" stroke-width="0.9" fill="none"/>
<path d="M32.5 390V509M39.2 515.5H220.28M32.5 390h3M32.5 419.75h3M32.5 449.5h3M32.5 479.25h3M32.5 509h3M32.5 404.88h1.6M32.5 434.62h1.6M32.5 464.38h1.6M32.5 494.12h1.6M39.2 515.5v-3M49.26 515.5v-1.6M59.32 515.5v-3M69.38 515.5v-1.6M79.44 515.5v-3M89.5 515.5v-1.6M99.56 515.5v-3M109.62 515.5v-1.6M119.68 515.5v-3M129.74 515.5v-1.6M139.8 515.5v-3M149.86 515.5v-1.6M159.92 515.5v-3M169.98 515.5v-1.6M180.04 515.5v-3M190.1 515.5v-1.6M200.16 515.5v-3M210.22 515.5v-1.6M220.28 515.5v-3" stroke="#151515" stroke-width="1.2" fill="none"/>
<g class="tk"><text x="31.8" y="392.8" text-anchor="end">1</text><text x="31.8" y="422.55" text-anchor="end">-1</text><text x="31.8" y="452.3" text-anchor="end">-3</text><text x="31.8" y="482.05" text-anchor="end">-5</text><text x="31.8" y="511.8" text-anchor="end">-7</text><text x="39.2" y="524" text-anchor="middle">0</text><text x="59.32" y="524" text-anchor="middle">2</text><text x="79.44" y="524" text-anchor="middle">4</text><text x="99.56" y="524" text-anchor="middle">6</text><text x="119.68" y="524" text-anchor="middle">8</text><text x="139.8" y="524" text-anchor="middle">10</text><text x="159.92" y="524" text-anchor="middle">12</text><text x="180.04" y="524" text-anchor="middle">14</text><text x="200.16" y="524" text-anchor="middle">16</text><text x="220.28" y="524" text-anchor="middle">18</text></g>
<text class="ti" x="129.7" y="376.6" text-anchor="middle">(run e)</text>
<text class="xl" x="129.74" y="540.3" text-anchor="middle">t.o.s. (h)</text>
<text class="yl" transform="translate(12.2 447.5) rotate(-90)" x="0" y="0" text-anchor="middle" dominant-baseline="central">ln <tspan style="font-size:15px">α</tspan></text>
<path d="M44.58 404.3L215.6 405.3M44.58 405.6L215.6 406.6M44.58 467.45L215.6 472.44M44.58 505.7L215.6 506.6" stroke="#3a3a3a" stroke-width="0.85" stroke-dasharray="0.9 1.1" fill="none"/>
<g fill="#1a1a1a"><path d="M42.08 495.1L47.08 495.1L44.58 499.9Z"/><path d="M52.14 505.4L57.14 505.4L54.64 510.2Z"/><path d="M62.2 505.4L67.2 505.4L64.7 510.2Z"/><path d="M72.26 505.4L77.26 505.4L74.76 510.2Z"/><path d="M82.32 505.4L87.32 505.4L84.82 510.2Z"/><path d="M92.38 505.4L97.38 505.4L94.88 510.2Z"/><path d="M102.44 505.4L107.44 505.4L104.94 510.2Z"/><path d="M112.5 505.4L117.5 505.4L115 510.2Z"/><path d="M122.56 505.4L127.56 505.4L125.06 510.2Z"/><path d="M132.62 505.4L137.62 505.4L135.12 510.2Z"/><path d="M142.68 505.4L147.68 505.4L145.18 510.2Z"/><path d="M152.74 505.4L157.74 505.4L155.24 510.2Z"/><path d="M162.8 505.4L167.8 505.4L165.3 510.2Z"/><path d="M172.86 505.4L177.86 505.4L175.36 510.2Z"/><path d="M182.92 505.4L187.92 505.4L185.42 510.2Z"/><path d="M192.98 505.4L197.98 505.4L195.48 510.2Z"/><path d="M203.04 505.4L208.04 505.4L205.54 510.2Z"/><path d="M213.1 505.4L218.1 505.4L215.6 510.2Z"/><path d="M44.58 462.8L47.58 465.8L44.58 468.8L41.58 465.8Z"/><path d="M54.64 464.8L57.64 467.8L54.64 470.8L51.64 467.8Z"/><path d="M64.7 464.8L67.7 467.8L64.7 470.8L61.7 467.8Z"/><path d="M74.76 466.1L77.76 469.1L74.76 472.1L71.76 469.1Z"/><path d="M84.82 466.9L87.82 469.9L84.82 472.9L81.82 469.9Z"/><path d="M94.88 466.1L97.88 469.1L94.88 472.1L91.88 469.1Z"/><path d="M104.94 466.1L107.94 469.1L104.94 472.1L101.94 469.1Z"/><path d="M115 466.9L118 469.9L115 472.9L112 469.9Z"/><path d="M125.06 466.9L128.06 469.9L125.06 472.9L122.06 469.9Z"/><path d="M135.12 466.9L138.12 469.9L135.12 472.9L132.12 469.9Z"/><path d="M145.18 466.9L148.18 469.9L145.18 472.9L142.18 469.9Z"/><path d="M155.24 468.5L158.24 471.5L155.24 474.5L152.24 471.5Z"/><path d="M165.3 468L168.3 471L165.3 474L162.3 471Z"/><path d="M175.36 468L178.36 471L175.36 474L172.36 471Z"/><path d="M185.42 468.5L188.42 471.5L185.42 474.5L182.42 471.5Z"/><path d="M195.48 468.5L198.48 471.5L195.48 474.5L192.48 471.5Z"/><path d="M205.54 468.5L208.54 471.5L205.54 474.5L202.54 471.5Z"/><path d="M215.6 469.8L218.6 472.8L215.6 475.8L212.6 472.8Z"/><path d="M44.58 403.05L47.13 408.15L42.03 408.15Z"/><path d="M54.64 403.11L57.19 408.21L52.09 408.21Z"/><path d="M64.7 403.17L67.25 408.27L62.15 408.27Z"/><path d="M74.76 403.23L77.31 408.33L72.21 408.33Z"/><path d="M84.82 403.29L87.37 408.39L82.27 408.39Z"/><path d="M94.88 403.34L97.43 408.44L92.33 408.44Z"/><path d="M104.94 403.4L107.49 408.5L102.39 408.5Z"/><path d="M115 403.46L117.55 408.56L112.45 408.56Z"/><path d="M125.06 403.52L127.61 408.62L122.51 408.62Z"/><path d="M135.12 403.58L137.67 408.68L132.57 408.68Z"/><path d="M145.18 403.64L147.73 408.74L142.63 408.74Z"/><path d="M155.24 403.7L157.79 408.8L152.69 408.8Z"/><path d="M165.3 403.76L167.85 408.86L162.75 408.86Z"/><path d="M175.36 403.81L177.91 408.91L172.81 408.91Z"/><path d="M185.42 403.87L187.97 408.97L182.87 408.97Z"/><path d="M195.48 403.93L198.03 409.03L192.93 409.03Z"/><path d="M205.54 403.99L208.09 409.09L202.99 409.09Z"/><path d="M215.6 404.05L218.15 409.15L213.05 409.15Z"/><circle cx="44.58" cy="404.3" r="2.45"/><circle cx="54.64" cy="404.36" r="2.45"/><circle cx="64.7" cy="404.42" r="2.45"/><circle cx="74.76" cy="404.48" r="2.45"/><circle cx="84.82" cy="404.54" r="2.45"/><circle cx="94.88" cy="404.59" r="2.45"/><circle cx="104.94" cy="404.65" r="2.45"/><circle cx="115" cy="404.71" r="2.45"/><circle cx="125.06" cy="404.77" r="2.45"/><circle cx="135.12" cy="404.83" r="2.45"/><circle cx="145.18" cy="404.89" r="2.45"/><circle cx="155.24" cy="404.95" r="2.45"/><circle cx="165.3" cy="405.01" r="2.45"/><circle cx="175.36" cy="405.06" r="2.45"/><circle cx="185.42" cy="405.12" r="2.45"/><circle cx="195.48" cy="405.18" r="2.45"/><circle cx="205.54" cy="405.24" r="2.45"/><circle cx="215.6" cy="405.3" r="2.45"/></g>
<rect x="38.5" y="425.4" width="30.7" height="33.5" rx="3.2" ry="3.2" fill="none" stroke="#151515" stroke-width="1.2"/>
<g fill="#1a1a1a"><circle cx="44.8" cy="430.8" r="2.45"/><path d="M44.8 437.65L47.35 442.75L42.25 442.75Z"/><path d="M44.8 444.9L47.8 447.9L44.8 450.9L41.8 447.9Z"/><path d="M42.3 452.7L47.3 452.7L44.8 457.5Z"/></g>
<text class="lg" x="52.2" y="432.8">α</text><text class="lg" x="52.2" y="442.2">α</text><text class="ls" x="57.2" y="443.8">CH4</text><text class="la" x="52.2" y="449.9">a</text><text class="ls" x="57.2" y="451.5">CO2</text><text class="la" x="52.2" y="457.1">a</text><text class="ls" x="57.2" y="458.7">CO</text>
<path d="M252.4 390.3H443.56M252.4 410.37H443.56M252.4 430.44H443.56M252.4 450.51H443.56M252.4 470.58H443.56M252.4 490.65H443.56M252.4 510.72H443.56M259.6 390.3V517.7M280.04 390.3V517.7M300.48 390.3V517.7M320.92 390.3V517.7M341.36 390.3V517.7M361.8 390.3V517.7M382.24 390.3V517.7M402.68 390.3V517.7M423.12 390.3V517.7M443.56 390.3V517.7" stroke="#b4b4b4" stroke-width="0.9" fill="none"/>
<path d="M252.4 390.3V510.72M259.6 517.7H443.56M252.4 390.3h3M252.4 410.37h3M252.4 430.44h3M252.4 450.51h3M252.4 470.58h3M252.4 490.65h3M252.4 510.72h3M252.4 400.34h1.6M252.4 420.41h1.6M252.4 440.48h1.6M252.4 460.55h1.6M252.4 480.62h1.6M252.4 500.69h1.6M259.6 517.7v-3M269.82 517.7v-1.6M280.04 517.7v-3M290.26 517.7v-1.6M300.48 517.7v-3M310.7 517.7v-1.6M320.92 517.7v-3M331.14 517.7v-1.6M341.36 517.7v-3M351.58 517.7v-1.6M361.8 517.7v-3M372.02 517.7v-1.6M382.24 517.7v-3M392.46 517.7v-1.6M402.68 517.7v-3M412.9 517.7v-1.6M423.12 517.7v-3M433.34 517.7v-1.6M443.56 517.7v-3" stroke="#151515" stroke-width="1.2" fill="none"/>
<g class="tk"><text x="251.7" y="393.1" text-anchor="end">0</text><text x="251.7" y="413.17" text-anchor="end">-1</text><text x="251.7" y="433.24" text-anchor="end">-2</text><text x="251.7" y="453.31" text-anchor="end">-3</text><text x="251.7" y="473.38" text-anchor="end">-4</text><text x="251.7" y="493.45" text-anchor="end">-5</text><text x="251.7" y="513.52" text-anchor="end">-6</text><text x="259.6" y="526.5" text-anchor="middle">0</text><text x="280.04" y="526.5" text-anchor="middle">2</text><text x="300.48" y="526.5" text-anchor="middle">4</text><text x="320.92" y="526.5" text-anchor="middle">6</text><text x="341.36" y="526.5" text-anchor="middle">8</text><text x="361.8" y="526.5" text-anchor="middle">10</text><text x="382.24" y="526.5" text-anchor="middle">12</text><text x="402.68" y="526.5" text-anchor="middle">14</text><text x="423.12" y="526.5" text-anchor="middle">16</text><text x="443.56" y="526.5" text-anchor="middle">18</text></g>
<text class="ti" x="351.5" y="376.6" text-anchor="middle">(run f)</text>
<text class="xl" x="351.58" y="539.6" text-anchor="middle">t.o.s. (h)</text>
<text class="yl" transform="translate(235 449.1) rotate(-90)" x="0" y="0" text-anchor="middle" dominant-baseline="central">ln <tspan style="font-size:15px">α</tspan></text>
<path d="M265.06 391L438.8 402.55M265.06 403.61L438.8 417.38M265.06 409.36L438.8 416.94M265.06 479.98L438.8 489.69" stroke="#3a3a3a" stroke-width="0.85" stroke-dasharray="0.9 1.1" fill="none"/>
<g fill="#1a1a1a"><path d="M262.56 477.3L267.56 477.3L265.06 482.1Z"/><path d="M272.78 478L277.78 478L275.28 482.8Z"/><path d="M283 479L288 479L285.5 483.8Z"/><path d="M293.22 479.4L298.22 479.4L295.72 484.2Z"/><path d="M303.44 478.4L308.44 478.4L305.94 483.2Z"/><path d="M313.66 481.7L318.66 481.7L316.16 486.5Z"/><path d="M323.88 482.1L328.88 482.1L326.38 486.9Z"/><path d="M334.1 481.1L339.1 481.1L336.6 485.9Z"/><path d="M344.32 482.5L349.32 482.5L346.82 487.3Z"/><path d="M354.54 482.4L359.54 482.4L357.04 487.2Z"/><path d="M364.76 483.9L369.76 483.9L367.26 488.7Z"/><path d="M374.98 483.9L379.98 483.9L377.48 488.7Z"/><path d="M385.2 483.3L390.2 483.3L387.7 488.1Z"/><path d="M395.42 485.5L400.42 485.5L397.92 490.3Z"/><path d="M405.64 483.9L410.64 483.9L408.14 488.7Z"/><path d="M415.86 486.6L420.86 486.6L418.36 491.4Z"/><path d="M426.08 487.2L431.08 487.2L428.58 492Z"/><path d="M436.3 487.6L441.3 487.6L438.8 492.4Z"/><path d="M265.06 406.9L268.06 409.9L265.06 412.9L262.06 409.9Z"/><path d="M275.28 406.4L278.28 409.4L275.28 412.4L272.28 409.4Z"/><path d="M285.5 407.3L288.5 410.3L285.5 413.3L282.5 410.3Z"/><path d="M295.72 407.8L298.72 410.8L295.72 413.8L292.72 410.8Z"/><path d="M305.94 408.5L308.94 411.5L305.94 414.5L302.94 411.5Z"/><path d="M316.16 409L319.16 412L316.16 415L313.16 412Z"/><path d="M326.38 409L329.38 412L326.38 415L323.38 412Z"/><path d="M336.6 409.3L339.6 412.3L336.6 415.3L333.6 412.3Z"/><path d="M346.82 409.9L349.82 412.9L346.82 415.9L343.82 412.9Z"/><path d="M357.04 410.4L360.04 413.4L357.04 416.4L354.04 413.4Z"/><path d="M367.26 409.5L370.26 412.5L367.26 415.5L364.26 412.5Z"/><path d="M377.48 410.7L380.48 413.7L377.48 416.7L374.48 413.7Z"/><path d="M387.7 411.3L390.7 414.3L387.7 417.3L384.7 414.3Z"/><path d="M397.92 412.5L400.92 415.5L397.92 418.5L394.92 415.5Z"/><path d="M408.14 412.8L411.14 415.8L408.14 418.8L405.14 415.8Z"/><path d="M418.36 413.4L421.36 416.4L418.36 419.4L415.36 416.4Z"/><path d="M428.58 413.4L431.58 416.4L428.58 419.4L425.58 416.4Z"/><path d="M438.8 414.6L441.8 417.6L438.8 420.6L435.8 417.6Z"/><path d="M265.06 399.05L267.61 404.15L262.51 404.15Z"/><path d="M275.28 401.25L277.83 406.35L272.73 406.35Z"/><path d="M285.5 402.15L288.05 407.25L282.95 407.25Z"/><path d="M295.72 403.35L298.27 408.45L293.17 408.45Z"/><path d="M305.94 404.75L308.49 409.85L303.39 409.85Z"/><path d="M316.16 405.95L318.71 411.05L313.61 411.05Z"/><path d="M326.38 406.85L328.93 411.95L323.83 411.95Z"/><path d="M336.6 407.95L339.15 413.05L334.05 413.05Z"/><path d="M346.82 408.45L349.37 413.55L344.27 413.55Z"/><path d="M357.04 409.45L359.59 414.55L354.49 414.55Z"/><path d="M367.26 408.95L369.81 414.05L364.71 414.05Z"/><path d="M377.48 410.15L380.03 415.25L374.93 415.25Z"/><path d="M387.7 410.75L390.25 415.85L385.15 415.85Z"/><path d="M397.92 411.95L400.47 417.05L395.37 417.05Z"/><path d="M408.14 412.25L410.69 417.35L405.59 417.35Z"/><path d="M418.36 412.85L420.91 417.95L415.81 417.95Z"/><path d="M428.58 412.85L431.13 417.95L426.03 417.95Z"/><path d="M438.8 414.05L441.35 419.15L436.25 419.15Z"/><circle cx="265.06" cy="389.7" r="2.45"/><circle cx="275.28" cy="391.1" r="2.45"/><circle cx="285.5" cy="392" r="2.45"/><circle cx="295.72" cy="392.8" r="2.45"/><circle cx="305.94" cy="394.1" r="2.45"/><circle cx="316.16" cy="394.9" r="2.45"/><circle cx="326.38" cy="395.8" r="2.45"/><circle cx="336.6" cy="396.7" r="2.45"/><circle cx="346.82" cy="397.2" r="2.45"/><circle cx="357.04" cy="398.1" r="2.45"/><circle cx="367.26" cy="397.7" r="2.45"/><circle cx="377.48" cy="398.4" r="2.45"/><circle cx="387.7" cy="398.9" r="2.45"/><circle cx="397.92" cy="400.2" r="2.45"/><circle cx="408.14" cy="400.2" r="2.45"/><circle cx="418.36" cy="400.8" r="2.45"/><circle cx="428.58" cy="400.9" r="2.45"/><circle cx="438.8" cy="402.4" r="2.45"/></g>
<rect x="258.5" y="425.9" width="34" height="39.2" rx="3.2" ry="3.2" fill="none" stroke="#151515" stroke-width="1.2"/>
<g fill="#1a1a1a"><circle cx="265.4" cy="431.5" r="2.45"/><path d="M265.4 438.45L267.95 443.55L262.85 443.55Z"/><path d="M265.4 445.8L268.4 448.8L265.4 451.8L262.4 448.8Z"/><path d="M262.9 454.2L267.9 454.2L265.4 459Z"/></g>
<text class="lg" x="273" y="433.5">α</text><text class="lg" x="273" y="443">α</text><text class="ls" x="278" y="444.6">CH4</text><text class="la" x="273" y="450.8">a</text><text class="ls" x="278" y="452.4">CO2</text><text class="la" x="273" y="458.6">a</text><text class="ls" x="278" y="460.2">CO</text>
</svg></body></html>
